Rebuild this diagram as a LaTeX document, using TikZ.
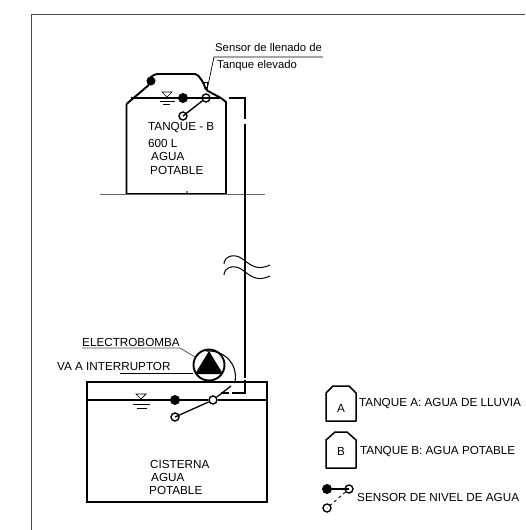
\documentclass[tikz,border=0pt]{standalone}
\usepackage{fontspec}
\setmainfont{Liberation Sans}
\usetikzlibrary{arrows.meta, positioning, calc}

\begin{document}
\begin{tikzpicture}[
        x=1pt, y=-1pt,
        label/.style={anchor=west, inner sep=0pt, font=\fontsize{11.7}{13}\selectfont},
        smalllabel/.style={anchor=west, inner sep=0pt, font=\fontsize{11.3}{12}\selectfont},
        tank/.style={draw=black, line width=1.9pt, line join=round},
        level/.style={draw=black, line width=1.9pt},
        pipe/.style={draw=black, line width=1.7pt},
        thinline/.style={draw=black, line width=0.7pt},
        floatdot/.style={circle, fill=black, inner sep=0pt, minimum size=10pt},
        ring/.style={circle, draw=black, line width=1.4pt, inner sep=0pt, minimum size=8pt}
    ]
        \useasboundingbox (0,0) rectangle (525,530);

        % sheet frame
        \draw[draw=black!70, line width=0.8pt] (31.5,530) -- (31.5,14) -- (525,14);

        % tanque elevado
        \draw[tank] (126.5,104) -- (126.5,194) -- (226,194) -- (226,102) -- (221,98);
        \draw[tank, rounded corners=2pt] (126.5,104) -- (150,84) -- (147,80) -- (155,74) -- (197,74) -- (203,82) -- (206,90) -- (221,98);
        \node[circle, fill=black, inner sep=0pt, minimum size=9pt] (lid) at (151,81) {};
        \draw[thinline, draw=black!60] (100,194) -- (265,194);
        \coordinate (base) at (187,192);
        \fill (base) circle (0.8);

        \coordinate (levelBl) at (131,98);
        \coordinate (levelBr) at (220,98);
        \draw[level] (levelBl) -- (levelBr);
        \draw[thinline] (162,92) -- (172,92) -- (167,97) -- cycle;
        \draw[thinline] (160,101) -- (175,101);
        \draw[thinline] (163,104) -- (170,104);
        \node[floatdot] (dotB) at (183,98) {};
        \node[ring] (ringB) at (206,98) {};
        \node[ring] (endB) at (183,116) {};
        \draw[line width=1.4pt] (ringB) -- (endB.center);

        % tuberia
        \coordinate (pipeBl) at (229,98);
        \coordinate (pipeBr) at (245,98);
        \coordinate (gapBa) at (245,119);
        \coordinate (gapBb) at (245,124);
        \coordinate (pipeC) at (245,393);
        \coordinate (pipeCl) at (232,393);
        \draw[pipe] (pipeBl) -- (pipeBr) -- (gapBa);
        \draw[pipe] (gapBb) -- (245,378);
        \draw[pipe] (245,380) -- (pipeC) -- (pipeCl);
        \draw[pipe] (229,393) -- (221,393);
        \draw[line width=1pt] (224,264) .. controls (224,257) and (233,253) .. (241,258) .. controls (249,263) and (255,272) .. (270,265);
        \draw[line width=1pt] (224,275) .. controls (224,268) and (233,264) .. (241,269) .. controls (249,274) and (255,283) .. (270,276);

        % cisterna
        \node[draw=black, line width=1.9pt, minimum width=180pt, minimum height=120pt, inner sep=0pt] (cistern) at (177,442) {};
        \coordinate (levelCl) at (87,400);
        \coordinate (levelCr) at (267,400);
        \draw[line width=1.2pt] (levelCl) -- (208,400);
        \draw[line width=1.2pt] (218,400) -- (levelCr);
        \draw[thinline] (136,394) -- (146,394) -- (141,399) -- cycle;
        \draw[thinline] (133,404) -- (150,404);
        \draw[thinline] (137,408) -- (147,408);
        \node[floatdot] (dotC) at (175,400) {};
        \node[ring] (ringC) at (213,400) {};
        \node[ring] (endC) at (175,417) {};
        \draw[line width=1.3pt] (ringC) -- (endC.center);
        \coordinate (leverTip) at (231,386);
        \draw[line width=1.3pt] (ringC) -- (leverTip);

        % electrobomba
        \node[circle, draw=black, line width=1.9pt, inner sep=0pt, minimum size=31pt] (pump) at (209,365) {};
        \fill (209,351) -- (223,374) -- (195,374) -- cycle;
        \draw[line width=1.1pt] (206,351) .. controls (225,350) and (238,364) .. (235,382);

        % textos bomba
        \node[label] (electro) at (82,342) {ELECTROBOMBA};
        \coordinate (electroEnd) at (180,348);
        \coordinate (electroTip) at (195,357);
        \draw[thinline, draw=black!70] (82,348) -- (electroEnd) -- (electroTip);
        \node[label] (interr) at (57,366) {VA A INTERRUPTOR};
        \draw[thinline, line width=1pt] (120,373) -- (pump.west |- 0,373);

        % sensor de llenado
        \node[smalllabel] (sensor) at (215,47) {Sensor de llenado de};
        \node[smalllabel] (elevado) at (217,66) {Tanque elevado};
        \coordinate (leaderA) at (323,57);
        \coordinate (leaderB) at (214,57);
        \coordinate (leaderC) at (207,90);
        \draw[thinline] (leaderA) -- (leaderB) -- (leaderC);
        \node[draw=black, line width=0.5pt, inner sep=0pt, minimum width=3pt, minimum height=5pt] (probe) at (206,85) {};

        % textos de tanques
        \node[label] (tanqueB) at (148,128) {TANQUE - B};
        \node[label] (litros) at (148,143) {600 L};
        \node[label] (aguaB) at (151,156) {AGUA};
        \node[label] (potB) at (150,170) {POTABLE};
        \node[label] (cist) at (150,464) {CISTERNA};
        \node[label] (aguaC) at (151,477) {AGUA};
        \node[label] (potC) at (149,490) {POTABLE};

        % leyenda
        \draw[tank, line width=1.5pt] (326,393) -- (326,421) -- (356,421) -- (356,393) -- (349,386) -- (333,386) -- cycle;
        \node[label, anchor=center] (letterA) at (341,408) {A};
        \node[label] (legendA) at (359,404) {TANQUE A: AGUA DE LLUVIA};
        \draw[tank, line width=1.5pt] (326,440) -- (326,468) -- (356,468) -- (356,440) -- (347,432) -- (335,432) -- cycle;
        \node[label, anchor=center] (letterB) at (341,451) {B};
        \node[label] (legendB) at (360,452) {TANQUE B: AGUA POTABLE};
        \node[floatdot] (dotL) at (327,489) {};
        \node[ring] (ringL) at (349,489) {};
        \node[ring] (endL) at (327,508) {};
        \draw[line width=1.2pt] (dotL) -- (ringL.center);
        \draw[line width=0.9pt, dashed] (ringL) -- (endL.center);
        \node[label] (legendS) at (357,497) {SENSOR DE NIVEL DE AGUA};
    \end{tikzpicture}
\end{document}
